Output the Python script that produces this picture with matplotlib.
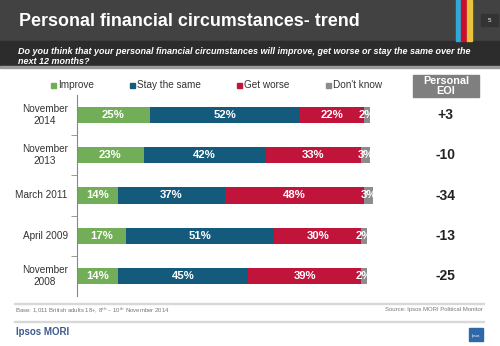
import matplotlib
matplotlib.use("Agg")
import matplotlib.pyplot as plt
from matplotlib.patches import Rectangle

plt.rcParams['font.family'] = ['Liberation Sans', 'DejaVu Sans']

# Survey waves, top to bottom
waves = ["November\n2014", "November\n2013", "March 2011", "April 2009", "November\n2008"]
series = ["Improve", "Stay the same", "Get worse", "Don't know"]
improve = [25, 23, 14, 17, 14]
stay_same = [52, 42, 37, 51, 45]
get_worse = [22, 33, 48, 30, 39]
dont_know = [2, 3, 3, 2, 2]
eoi = ["+3", "-10", "-34", "-13", "-25"]

colors = ["#72ad57", "#145a7c", "#c1143b", "#8c8c8c"]

W, H = 500, 346
fig = plt.figure(figsize=(W / 100, H / 100), dpi=100)

# Full-figure canvas in pixel coordinates (y downward) for the slide furniture
bg = fig.add_axes([0, 0, 1, 1])
bg.set_xlim(0, W)
bg.set_ylim(H, 0)
bg.axis("off")

bg.add_patch(Rectangle((0, 0), W, 41, color="#424242", zorder=0))
bg.add_patch(Rectangle((0, 41), W, 25, color="#2c2c2c", zorder=0))
bg.add_patch(Rectangle((0, 66), W, 1.5, color="#9a9a9a", zorder=0))
for i, c in enumerate(["#2eaad8", "#c8102e", "#e9c33b"]):
    bg.add_patch(Rectangle((456 + i * 5.3, 0), 5.3, 41, color=c, zorder=1))
bg.add_patch(Rectangle((481, 14), 17, 12, color="#333333", zorder=1))
bg.text(489.5, 20, "5", color="white", fontsize=4.5, ha="center", va="center")

bg.text(19, 21, "Personal financial circumstances- trend", color="white",
        fontsize=12.9, fontweight="bold", ha="left", va="center")
bg.text(18, 46.5, "Do you think that your personal financial circumstances will improve, get worse or stay the same over the\nnext 12 months?",
        color="white", fontsize=6.45, fontweight="bold", fontstyle="italic",
        ha="left", va="top", linespacing=1.15)

# Legend row
legend_x = [51, 130, 237, 326]
for x, lab, c in zip(legend_x, series, colors):
    bg.add_patch(Rectangle((x, 83), 4.5, 4.5, color=c))
    bg.text(x + 7, 85.5, lab, fontsize=7.2, color="#333333", ha="left", va="center")

# Personal EOI header box
bg.add_patch(Rectangle((413, 75), 66, 22, color="#7f7f7f"))
bg.text(446, 86, "Personal\nEOI", color="white", fontsize=7.8, fontweight="bold",
        ha="center", va="center", linespacing=0.95)

# Footer
bg.add_patch(Rectangle((14, 303), 470, 0.7, color="#d8d8d8"))
bg.add_patch(Rectangle((14, 321), 470, 0.7, color="#d8d8d8"))
bg.text(15, 310, "Base: 1,011 British adults 18+, 8$^{th}$ \u2013 10$^{th}$ November 2014",
        fontsize=4.3, color="#777777", ha="left", va="center")
bg.text(483, 310, "Source: Ipsos MORI Political Monitor", fontsize=4.3, color="#777777",
        ha="right", va="center")
bg.text(16, 332, "Ipsos MORI", fontsize=7, fontweight="bold", color="#3e5a8c",
        ha="left", va="center")
bg.add_patch(Rectangle((469, 328), 14, 13, color="#2f68a8"))
bg.text(476, 336, "Ipsos", fontsize=2.5, color="white", ha="center", va="center")

# Stacked bar chart
left_px, right_px = 77, 367
top_px, bot_px = 95, 296
ax = fig.add_axes([left_px / W, (H - bot_px) / H, (right_px - left_px) / W, (bot_px - top_px) / H])
ax.set_xlim(0, 100)
ax.set_ylim(len(waves) - 0.5, -0.5)
ax.patch.set_alpha(0)

ys = list(range(len(waves)))
lefts = [0] * len(waves)
for vals, c in zip([improve, stay_same, get_worse, dont_know], colors):
    ax.barh(ys, vals, left=lefts, height=0.4, color=c, clip_on=False)
    for y, l, v in zip(ys, lefts, vals):
        ax.text(l + v / 2, y, f"{v}%", color="white", fontsize=8.2, fontweight="bold",
                ha="center", va="center", clip_on=False)
    lefts = [l + v for l, v in zip(lefts, vals)]

for y, e in zip(ys, eoi):
    ax.text(127, y, e, fontsize=10, fontweight="bold", color="#222222",
            ha="center", va="center", clip_on=False)

for s in ["top", "right", "bottom"]:
    ax.spines[s].set_visible(False)
ax.spines["left"].set_color("#888888")
ax.spines["left"].set_linewidth(0.8)
ax.set_xticks([])
ax.set_yticks([y + 0.5 for y in ys[:-1]], minor=False)
ax.set_yticklabels([])
ax.tick_params(axis="y", length=4, color="#888888", width=0.6)
for y, lab in zip(ys, waves):
    ax.text(-3.2, y, lab, fontsize=7.2, color="#333333", ha="right", va="center",
            multialignment="center", linespacing=1.25)

fig.savefig("out.png", dpi=100)
